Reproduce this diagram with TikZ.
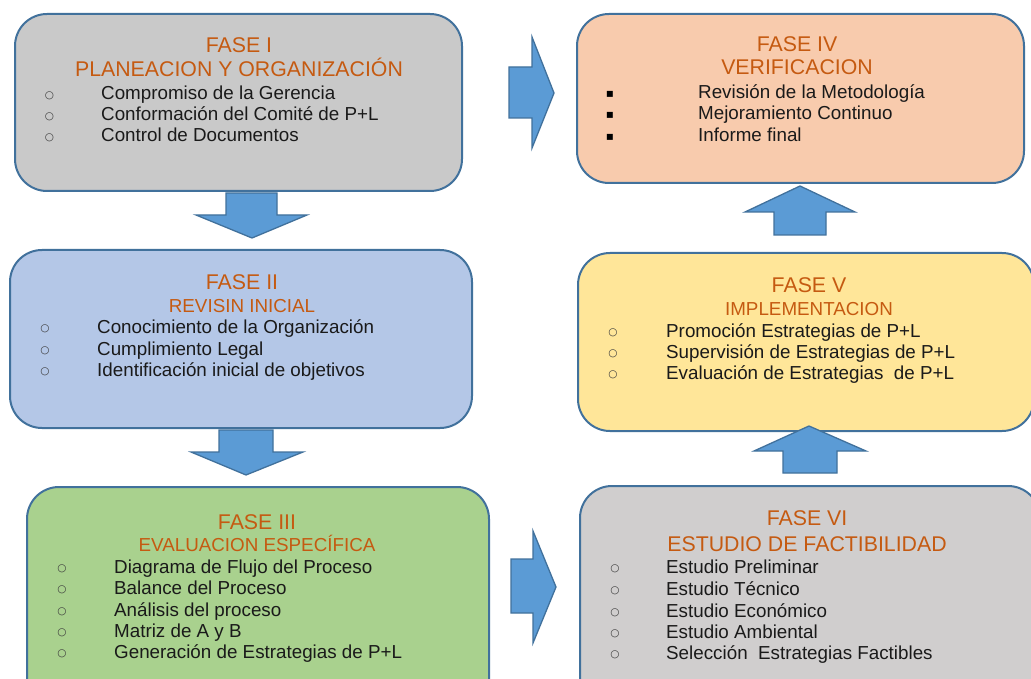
\documentclass[tikz,border=0pt]{standalone}
\usepackage{fontspec}
\setmainfont{Liberation Sans}
\newfontfamily\dejav{DejaVu Sans}
\definecolor{bord}{HTML}{41719C}
\definecolor{arrfill}{HTML}{5B9BD5}
\definecolor{orng}{HTML}{C55A11}
\definecolor{txt}{HTML}{1A1A1A}
\definecolor{cI}{HTML}{C9C9C9}
\definecolor{cII}{HTML}{B4C7E7}
\definecolor{cIII}{HTML}{A9D18E}
\definecolor{cIV}{HTML}{F8CBAD}
\definecolor{cV}{HTML}{FFE699}
\definecolor{cVI}{HTML}{D0CECE}
\tikzset{
  phase/.style={draw=bord, line width=2pt, rounded corners=32pt, anchor=north west, inner sep=0pt, outer sep=0pt},
  blockarrow/.style={draw=bord, line width=1.3pt, fill=arrfill, line join=miter},
  ttl/.style={anchor=base, text=orng, font=\fontsize{21.3}{24}\selectfont, inner sep=0pt},
  sub/.style={anchor=base, text=orng, font=\fontsize{18.8}{22}\selectfont, inner sep=0pt},
  itm/.style={anchor=base west, text=txt, font=\fontsize{18.8}{22}\selectfont, inner sep=0pt},
  bul/.style={anchor=center, text=txt!85, font=\dejav\fontsize{10.5}{12}\selectfont, inner sep=0pt},
  sqb/.style={anchor=base, text=black, font=\dejav\fontsize{12}{14}\selectfont, inner sep=0pt}
}
\begin{document}
\begin{tikzpicture}[x=1pt,y=-1pt]
\useasboundingbox (0,0) rectangle (1031,679);
\clip (0,0) rectangle (1031,679);
\fill[white] (0,0) rectangle (1031,679);

% boxes
\node[phase, fill=cI,   minimum width=447pt, minimum height=177pt] (f1) at (15,14) {};
\node[phase, fill=cIV,  minimum width=447pt, minimum height=169pt] (f4) at (577,14) {};
\node[phase, fill=cII,  minimum width=462pt, minimum height=178pt] (f2) at (10,250) {};
\node[phase, fill=cV,   minimum width=456pt, minimum height=178pt] (f5) at (578,253) {};
\node[phase, fill=cIII, minimum width=462pt, minimum height=225pt] (f3) at (27,487) {};
\node[phase, fill=cVI,  minimum width=460pt, minimum height=225pt] (f6) at (580,486) {};

% block arrows
\draw[blockarrow] (226,193) -- (277,193) -- (277,215) -- (307,215) -- (252,238) -- (196,215) -- (226,215) -- cycle;
\draw[blockarrow] (219,430) -- (273,430) -- (273,452) -- (303,452) -- (246,475) -- (191,452) -- (219,452) -- cycle;
\draw[blockarrow] (509,67) -- (532,67) -- (532,37) -- (554,93) -- (532,148) -- (532,118) -- (509,118) -- cycle;
\draw[blockarrow] (774,235) -- (826,235) -- (826,212) -- (855,212) -- (800,186) -- (745,212) -- (774,212) -- cycle;
\draw[blockarrow] (783,473) -- (837,473) -- (837,451) -- (866,451) -- (809,426) -- (754,451) -- (783,451) -- cycle;
\draw[blockarrow] (511,559) -- (533,559) -- (533,531) -- (556,587) -- (533,643) -- (533,613) -- (511,613) -- cycle;

% FASE I
\node[ttl] (t1a) at (239,53) {FASE I};
\node[ttl] (t1b) at (239,77) {PLANEACION Y ORGANIZACIÓN};
\node[bul] (b1a) at (49.5,96) {○};
\node[bul] (b1b) at (49.5,117) {○};
\node[bul] (b1c) at (49.5,138) {○};
\node[itm] (i1a) at (101,100) {Compromiso de la Gerencia};
\node[itm] (i1b) at (101,121) {Conformación del Comité de P+L};
\node[itm] (i1c) at (101,142) {Control de Documentos};

% FASE II
\node[ttl] (t2a) at (242,290) {FASE II};
\node[sub] (t2b) at (242,312) {REVISIN INICIAL};
\node[bul] (b2a) at (45,329) {○};
\node[bul] (b2b) at (45,351) {○};
\node[bul] (b2c) at (45,372) {○};
\node[itm] (i2a) at (97,333) {Conocimiento de la Organización};
\node[itm] (i2b) at (97,355) {Cumplimiento Legal};
\node[itm] (i2c) at (97,376) {Identificación inicial de objetivos};

% FASE III
\node[ttl] (t3a) at (257,529) {FASE III};
\node[sub] (t3b) at (257,551) {EVALUACION ESPECÍFICA};
\node[bul] (b3a) at (62,569) {○};
\node[bul] (b3b) at (62,590) {○};
\node[bul] (b3c) at (62,612) {○};
\node[bul] (b3d) at (62,633) {○};
\node[bul] (b3e) at (62,654) {○};
\node[itm] (i3a) at (114,573) {Diagrama de Flujo del Proceso};
\node[itm] (i3b) at (114,594) {Balance del Proceso};
\node[itm] (i3c) at (114,616) {Análisis del proceso};
\node[itm] (i3d) at (114,637) {Matriz de A y B};
\node[itm] (i3e) at (114,658) {Generación de Estrategias de P+L};

% FASE IV
\node[ttl] (t4a) at (797,52) {FASE IV};
\node[ttl] (t4b) at (797,75) {VERIFICACION};
\node[sqb] (b4a) at (610,98) {▪};
\node[sqb] (b4b) at (610,119) {▪};
\node[sqb] (b4c) at (610,141) {▪};
\node[itm] (i4a) at (698,99) {Revisión de la Metodología};
\node[itm] (i4b) at (698,120) {Mejoramiento Continuo};
\node[itm] (i4c) at (698,142) {Informe final};

% FASE V
\node[ttl] (t5a) at (809,292) {FASE V};
\node[sub] (t5b) at (809,315) {IMPLEMENTACION};
\node[bul] (b5a) at (613,333) {○};
\node[bul] (b5b) at (613,354) {○};
\node[bul] (b5c) at (613,375) {○};
\node[itm] (i5a) at (666,337) {Promoción Estrategias de P+L};
\node[itm] (i5b) at (666,358) {Supervisión de Estrategias de P+L};
\node[itm] (i5c) at (666,379) {Evaluación de Estrategias\ \ de P+L};

% FASE VI
\node[ttl] (t6a) at (807,525) {FASE VI};
\node[ttl] (t6b) at (807,551) {ESTUDIO DE FACTIBILIDAD};
\node[bul] (b6a) at (615,569) {○};
\node[bul] (b6b) at (615,591) {○};
\node[bul] (b6c) at (615,613) {○};
\node[bul] (b6d) at (615,634) {○};
\node[bul] (b6e) at (615,655) {○};
\node[itm] (i6a) at (666,573) {Estudio Preliminar};
\node[itm] (i6b) at (666,595) {Estudio Técnico};
\node[itm] (i6c) at (666,617) {Estudio Económico};
\node[itm] (i6d) at (666,638) {Estudio Ambiental};
\node[itm] (i6e) at (666,659) {Selección\ \ Estrategias Factibles};
\end{tikzpicture}
\end{document}
